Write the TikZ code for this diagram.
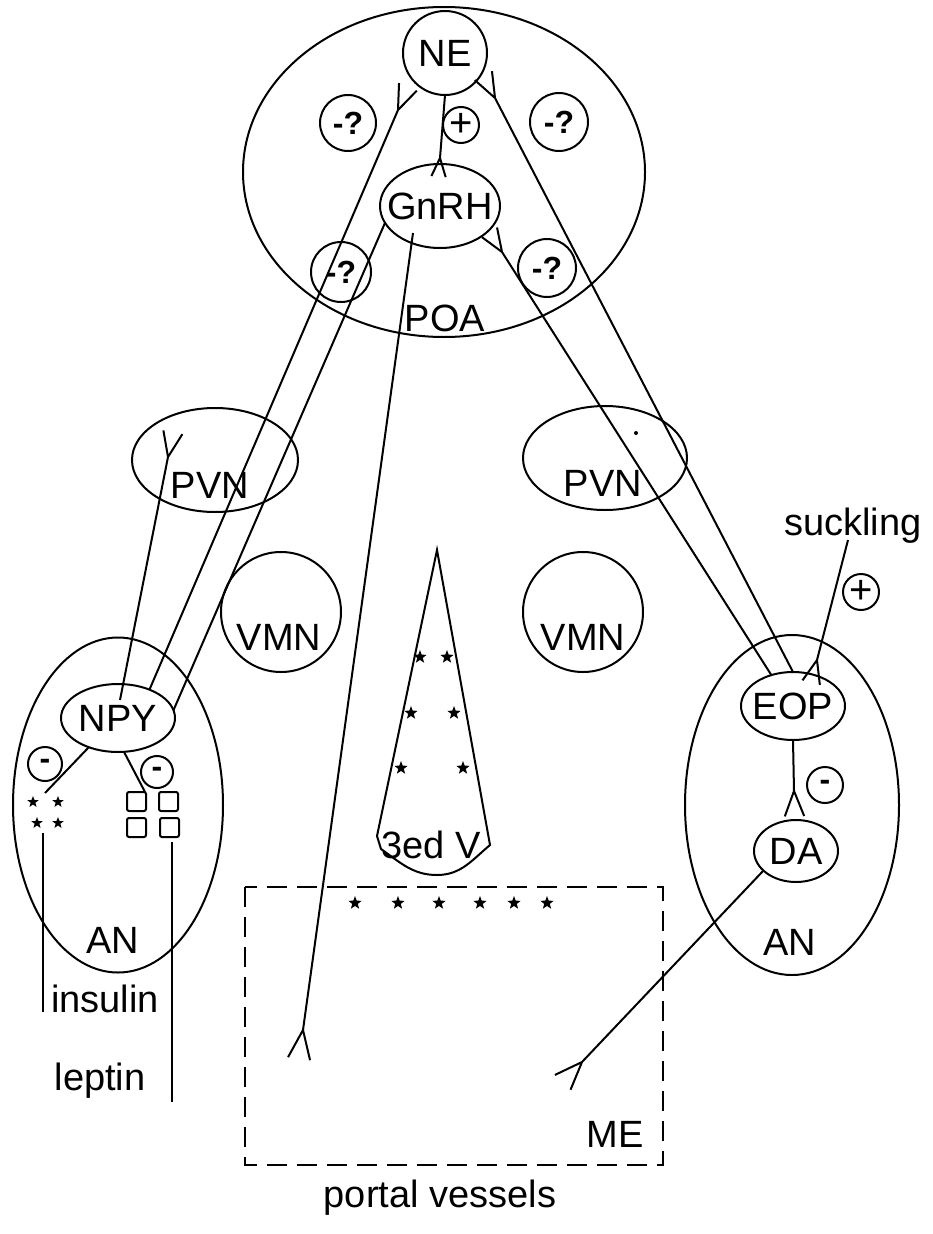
\documentclass[tikz,border=0pt]{standalone}
\usepackage{fontspec}
\setmainfont{Liberation Sans}
\usetikzlibrary{shapes.geometric,calc}
\newcommand\forkat[3][27pt]{\draw (#3) -- ($(#3)!#1!159:(#2)$) (#3) -- ($(#3)!#1!-159:(#2)$);}
\begin{document}
\begin{tikzpicture}[x=1pt,y=-1pt,line width=2pt,
  big/.style={font=\fontsize{38}{40}\selectfont},
  oval/.style={draw,ellipse,inner sep=0pt,outer sep=0pt},
  ring/.style={draw,circle,inner sep=0pt,outer sep=0pt},
  qsign/.style={ring,font=\fontsize{32}{34}\selectfont\bfseries},
  psign/.style={ring,font=\fontsize{40}{42}\selectfont},
  msign/.style={ring,font=\fontsize{32}{34}\selectfont\bfseries},
  starn/.style={star,star points=5,star point ratio=2.4,fill,draw=none,inner sep=0pt,minimum size=14pt},
  sq/.style={rounded corners=2pt},
  dbox/.style={dash pattern=on 20pt off 10pt}]
\useasboundingbox (0,0) rectangle (932,1234);
% POA region
\node[oval,minimum width=402pt,minimum height=330pt] (POA) at (444,172) {};
\node[big] (POAt) at (445,318) {POA};
\node[ring,minimum size=84pt,label={[big]center:NE}] (NE) at (445,53) {};
\node[oval,minimum width=120pt,minimum height=84pt,label={[big]center:GnRH}] (GnRH) at (440,206) {};
\node[psign,minimum size=36pt] (p1) at (461,125) {+};
\node[qsign,minimum size=56pt] (q1) at (348,123) {-?};
\node[qsign,minimum size=58pt] (q2) at (559,122) {-?};
\node[qsign,minimum size=60pt] (q3) at (341,272) {-?};
\node[qsign,minimum size=58pt] (q4) at (547,268) {-?};
% PVN and VMN
\node[oval,minimum width=166pt,minimum height=104pt] (PVNL) at (215,460) {};
\node[big] (PVNLt) at (210,485) {PVN};
\node[oval,minimum width=164pt,minimum height=104pt] (PVNR) at (605,458) {};
\node[big] (PVNRt) at (603,483) {PVN};
\node[ring,minimum size=120pt] (VMNL) at (281,612) {};
\node[big] (VMNLt) at (279,637) {VMN};
\node[ring,minimum size=120pt] (VMNR) at (583,612) {};
\node[big] (VMNRt) at (583,637) {VMN};
\fill (636,433) circle (2pt);
% left AN
\node[oval,minimum width=210pt,minimum height=335pt] (ANL) at (118,805) {};
\node[big] (ANLt) at (113,940) {AN};
\node[oval,minimum width=114pt,minimum height=68pt,label={[big]center:NPY}] (NPY) at (118,718) {};
\node[msign,minimum size=34pt] (m1) at (45,764) {-};
\node[msign,minimum size=32pt] (m2) at (157,772) {-};
\foreach \p in {(33,802),(58,802),(37,823),(58,823)} \node[starn,minimum size=12pt] at \p {};
\draw[sq] (127,792) rectangle (146,811);
\draw[sq] (159,792) rectangle (178,811);
\draw[sq] (127,818) rectangle (146,837);
\draw[sq] (160,818) rectangle (179,837);
\coordinate (stars) at (45,793);
\coordinate (squares) at (145,792);
\draw (NPY.225) -- (stars);
\draw (NPY.280) -- (squares);
\coordinate (insTop) at (43,833);
\coordinate (lepTop) at (172,842);
\node[big,anchor=base] (insulin) at (105,1012) {insulin};
\node[big,anchor=base] (leptin) at (100,1090) {leptin};
\coordinate (insEnd) at (43,1012);
\coordinate (lepEnd) at (172,1102);
\draw (insTop) -- (insEnd);
\draw (lepTop) -- (lepEnd);
% right AN
\node[oval,minimum width=214pt,minimum height=340pt] (ANR) at (792,805) {};
\node[big] (ANRt) at (790,942) {AN};
\node[oval,minimum width=104pt,minimum height=68pt,label={[big]center:EOP}] (EOP) at (793,706) {};
\node[oval,minimum width=84pt,minimum height=62pt,label={[big]center:DA}] (DA) at (796,851) {};
\node[msign,minimum size=36pt] (m3) at (825,785) {-};
\node[big,anchor=base] (suck) at (853,535) {suckling};
\node[psign,minimum size=36pt] (p2) at (861,592) {+};
% third ventricle
\draw (437,550) -- (377,836) -- (381,849) to[out=-35,in=180] (437,875) to[out=0,in=-140] (490,845) -- cycle;
\node[big] (V3) at (431,845) {3ed V};
\foreach \p in {(420,657),(447,657),(411,713),(454,713),(401,768),(463,768)} \node[starn] at \p {};
% median eminence
\draw[dbox] (245,887) rectangle (663,1165);
\foreach \x in {355,398,439,480,514,547} \node[starn] at (\x,903) {};
\node[big,anchor=base] (ME) at (615,1147) {ME};
\node[big,anchor=base] (portal) at (440,1207) {portal vessels};
% connectors
\coordinate (aG) at (440,158);
\draw (NE.south) -- (aG); \forkat[20pt]{NE.south}{aG}
\coordinate (aNL) at (398,110);
\draw (NPY.42) -- (aNL); \forkat{NPY.42}{aNL}
\draw (GnRH.197) -- (NPY.8);
\coordinate (npyIn) at (120,700);
\coordinate (aPL) at (168,457);
\draw (npyIn) -- (aPL); \forkat{npyIn}{aPL}
\coordinate (aNR) at (495,98);
\draw (EOP.north) -- (aNR); \forkat{EOP.north}{aNR}
\coordinate (aGR) at (502,252);
\draw (EOP.125) -- (aGR); \forkat[25pt]{EOP.125}{aGR}
\coordinate (sk) at (848,540);
\coordinate (aS) at (817,660);
\draw (sk) -- (aS); \forkat[25pt]{sk}{aS}
\coordinate (aD) at (794,791);
\draw (EOP.south) -- (aD); \forkat{EOP.south}{aD}
\coordinate (aM2) at (582,1062);
\draw (DA.211) -- (aM2); \forkat[30pt]{DA.211}{aM2}
\coordinate (gIn) at (413,233);
\coordinate (aM1) at (303,1030);
\draw (gIn) -- (aM1); \forkat[31pt]{gIn}{aM1}
\end{tikzpicture}
\end{document}
